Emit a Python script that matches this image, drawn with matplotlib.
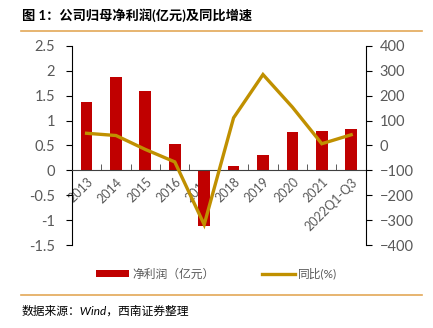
import matplotlib
matplotlib.use('Agg')
import matplotlib.pyplot as plt
from matplotlib.lines import Line2D
from matplotlib.patches import Patch
import numpy as np

plt.rcParams['font.family'] = ['Lato', 'Noto Sans CJK SC', 'DejaVu Sans']

years = ['2013', '2014', '2015', '2016', '2017', '2018', '2019', '2020', '2021', '2022Q1-Q3']
profit = [1.37, 1.87, 1.59, 0.52, -1.12, 0.08, 0.31, 0.77, 0.80, 0.84]   # 亿元
yoy = [49, 40, -16, -66, -318, 111, 285, 154, 7, 43]                     # %

bar_color = '#C00000'
line_color = '#C09000'
rule_color = '#E3A857'
tick_color = '#595959'

fig = plt.figure(figsize=(4.33, 3.28), dpi=100)
ax = fig.add_axes([0.166, 0.253, 0.679, 0.607])
ax2 = ax.twinx()

x = np.arange(len(years))
ax.bar(x, profit, width=0.4, color=bar_color, zorder=2)
ax2.plot(x, yoy, color=line_color, lw=2.4, solid_joinstyle='miter', zorder=3)

ax.set_xlim(-0.5, len(years) - 0.5)
ax.set_ylim(-1.5, 2.5)
ax.set_yticks([-1.5, -1, -0.5, 0, 0.5, 1, 1.5, 2, 2.5])
ax.set_yticklabels(['-1.5', '-1', '-0.5', '0', '0.5', '1', '1.5', '2', '2.5'])
ax2.set_ylim(-400, 400)
ax2.set_yticks(range(-400, 401, 100))

# x轴放在0处
ax.spines['bottom'].set_position(('data', 0))
ax.spines['bottom'].set_color('#404040')
ax.spines['bottom'].set_linewidth(0.8)
for s in ['top', 'right']:
    ax.spines[s].set_visible(False)
for s in ['top', 'left', 'bottom']:
    ax2.spines[s].set_visible(False)
ax.spines['left'].set_color('black')
ax2.spines['right'].set_color('black')

ax.set_xticks(np.arange(-0.5, len(years), 1), minor=True)
ax.set_xticks(x)
ax.set_xticklabels(years, rotation=45, ha='right', rotation_mode='anchor')
ax.tick_params(axis='x', which='major', length=0, pad=4, labelsize=9, labelcolor=tick_color)
ax.tick_params(axis='x', which='minor', direction='in', length=4, color='#404040')
ax.tick_params(axis='y', length=4, labelsize=10.5, labelcolor=tick_color, pad=8)
ax2.tick_params(axis='y', length=4, labelsize=10.5, labelcolor=tick_color, pad=6)

# 标题和分隔线
fig.text(0.05, 0.955, '图 1：公司归母净利润(亿元)及同比增速', fontsize=9.5,
         fontweight='bold', va='center', ha='left')
fig.add_artist(Line2D([0.048, 0.975], [0.905, 0.905], color=rule_color, lw=1.2))
fig.add_artist(Line2D([0.048, 0.975], [0.100, 0.100], color=rule_color, lw=1.2))
fig.text(0.05, 0.052, '数据来源：Wind，西南证券整理', fontsize=8.5, style='italic',
         va='center', ha='left')

handles = [Patch(facecolor=bar_color), Line2D([0], [0], color=line_color, lw=2.4)]
fig.legend(handles, ['净利润（亿元）', '同比(%)'], loc='center', bbox_to_anchor=(0.5, 0.165),
           ncol=2, frameon=False, fontsize=8.5, labelcolor=tick_color,
           handlelength=2.8, handleheight=0.45, columnspacing=4, handletextpad=0.3)

fig.savefig('out.png', dpi=100)
